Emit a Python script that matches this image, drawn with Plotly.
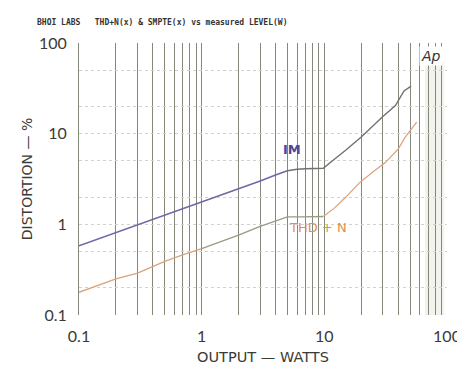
import plotly.graph_objects as go

# ---- data ----
im_watts_a = [0.1, 0.2, 0.5, 1.0, 2.0, 3.0, 4.0, 5.0]
im_pct_a = [0.58, 0.81, 1.26, 1.77, 2.5, 3.0, 3.5, 3.9]
im_watts_b = [5.0, 6.0, 7.0, 8.5, 9.8, 12.0, 15.0, 20.0, 25.0, 30.0, 38.0, 44.6, 51.0]
im_pct_b = [3.9, 4.05, 4.1, 4.1, 4.15, 5.2, 6.6, 9.2, 12.3, 15.5, 20.4, 29.6, 33.5]

thd_watts_a = [0.1, 0.2, 0.3, 0.5, 0.7, 1.0]
thd_pct_a = [0.178, 0.25, 0.29, 0.39, 0.46, 0.54]
thd_watts_b = [1.0, 2.0, 3.0, 4.0, 5.0, 6.5, 8.0, 9.8]
thd_pct_b = [0.54, 0.76, 0.95, 1.08, 1.21, 1.21, 1.21, 1.22]
thd_watts_c = [9.8, 12.0, 15.0, 19.2, 25.0, 31.4, 40.1, 45.8, 56.6]
thd_pct_c = [1.22, 1.5, 2.0, 2.85, 3.8, 4.8, 6.8, 9.2, 13.4]

decades = [0.1, 1, 10]
major_labels = {0.1: "0.1", 1: "1", 10: "10", 100: "100"}
grid_x = [d * k for d in decades for k in range(1, 10)] + [100]
grid_x_text = [major_labels.get(v, "") for v in grid_x]
grid_y = [d * k for d in decades for k in (1, 2, 5)] + [100]
grid_y_text = [major_labels.get(v, "") for v in grid_y]

fig = go.Figure()
fig.add_trace(go.Scatter(x=im_watts_a, y=im_pct_a, mode="lines",
                         line=dict(color="#6d68a6", width=1.6), showlegend=False))
fig.add_trace(go.Scatter(x=im_watts_b, y=im_pct_b, mode="lines",
                         line=dict(color="#6f7270", width=1.4), showlegend=False))
fig.add_trace(go.Scatter(x=thd_watts_a, y=thd_pct_a, mode="lines",
                         line=dict(color="#d8a47a", width=1.3), showlegend=False))
fig.add_trace(go.Scatter(x=thd_watts_b, y=thd_pct_b, mode="lines",
                         line=dict(color="#9a9a84", width=1.3), showlegend=False))
fig.add_trace(go.Scatter(x=thd_watts_c, y=thd_pct_c, mode="lines",
                         line=dict(color="#d9a27a", width=1.2), showlegend=False))

fnt = "DejaVu Sans, sans-serif"
axis_font = dict(family="Lato, DejaVu Sans, sans-serif", size=16, color="#3a3a36")

fig.update_layout(
    width=465, height=366,
    margin=dict(l=71, r=23, t=35, b=56),
    paper_bgcolor="white", plot_bgcolor="white",
    xaxis=dict(type="log", range=[-1, 2], tickmode="array", tickvals=grid_x,
               ticktext=grid_x_text, showgrid=True, gridcolor="#85877a", gridwidth=1,
               ticks="", zeroline=False, showline=False, tickfont=axis_font,
               ticklabelstandoff=10,
               title=dict(text="OUTPUT — WATTS", font=dict(family=fnt, size=14.5, color="#3a3a36"), standoff=7)),
    yaxis=dict(type="log", range=[-1, 2], tickmode="array", tickvals=grid_y,
               ticktext=grid_y_text, showgrid=True, gridcolor="#d2d2c8", gridwidth=1,
               griddash="dot", ticks="", zeroline=False, showline=True,
               linecolor="#85877a", linewidth=1, tickfont=axis_font,
               ticklabelstandoff=8,
               title=dict(text="DISTORTION — %", font=dict(family=fnt, size=14, color="#3a3a36"), standoff=3)),
    shapes=[dict(type="rect", xref="x", yref="paper", x0=66, x1=95, y0=0, y1=0.93,
                 fillcolor="#f3f3ed", line=dict(width=0), layer="below")],
    annotations=[
        dict(text="<b>BHOI LABS   THD+N(x) & SMPTE(x) vs measured LEVEL(W)</b>", xref="paper", yref="paper",
             x=-0.12, y=1.05, xanchor="left", yanchor="bottom", showarrow=False,
             font=dict(family="DejaVu Sans Mono", size=8, color="#333333")),
        dict(text="<b>IM</b>", x=0.74, y=0.82, xref="x", yref="y", showarrow=False,
             font=dict(family=fnt, size=13, color="#4f4694"), xanchor="center", yanchor="middle"),
        dict(text="THD + N", x=0.95, y=-0.03, xref="x", yref="y", showarrow=False,
             font=dict(family=fnt, size=13, color="#e0904a"), xanchor="center", yanchor="middle"),
        dict(text="<i>Ap</i>", xref="paper", yref="paper", x=0.99, y=0.99, xanchor="right", yanchor="top",
             showarrow=False, bgcolor="white", font=dict(family=fnt, size=14, color="#333333")),
    ],
)
fig.write_html("out.html")
